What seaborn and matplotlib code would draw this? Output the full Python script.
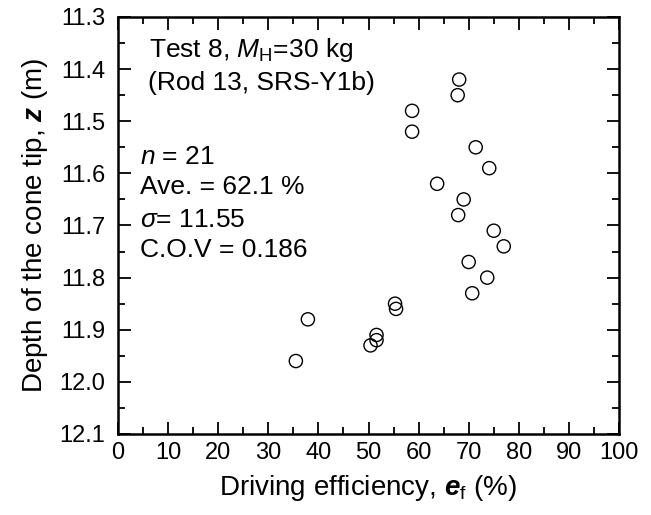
import matplotlib
matplotlib.use("Agg")
import matplotlib.pyplot as plt
from matplotlib.ticker import MultipleLocator
import seaborn as sns
import pandas as pd

efficiency = [68.1, 67.8, 58.7, 58.7, 71.4, 74.1, 63.7, 69.0, 67.9, 75.0, 77.0,
              70.0, 73.7, 70.7, 55.3, 55.5, 51.6, 51.6, 50.4, 37.9, 35.5]
depth = [11.42, 11.45, 11.48, 11.52, 11.55, 11.59, 11.62, 11.65, 11.68, 11.71, 11.74,
         11.77, 11.80, 11.83, 11.85, 11.86, 11.91, 11.92, 11.93, 11.88, 11.96]

x_ticks = [0, 10, 20, 30, 40, 50, 60, 70, 80, 90, 100]
y_ticks = [11.3, 11.4, 11.5, 11.6, 11.7, 11.8, 11.9, 12.0, 12.1]

info_lines = ["Test 8, $\\mathit{M}_{\\mathrm{H}}$=30 kg", "(Rod 13, SRS-Y1b)"]
stat_lines = ["$\\mathit{n}$ = 21", "Ave. = 62.1 %", "$\\sigma$= 11.55", "C.O.V = 0.186"]

sns.set_style("ticks")
plt.rcParams["font.family"] = ["Liberation Sans", "DejaVu Sans"]
plt.rcParams["mathtext.fontset"] = "custom"
plt.rcParams["mathtext.rm"] = "Liberation Sans"
plt.rcParams["mathtext.it"] = "Liberation Sans:italic"
plt.rcParams["mathtext.bf"] = "Liberation Sans:bold:italic"
plt.rcParams["text.color"] = "black"
plt.rcParams["axes.labelcolor"] = "black"
plt.rcParams["xtick.color"] = "black"
plt.rcParams["ytick.color"] = "black"

df = pd.DataFrame({"ef": efficiency, "z": depth})

fig = plt.figure(figsize=(6.51, 5.15), dpi=100)
ax = fig.add_axes([118 / 651, 1 - 434 / 515, 501 / 651, 417 / 515])

sns.scatterplot(data=df, x="ef", y="z", ax=ax, marker="o", s=90,
                facecolor="none", edgecolor="black", linewidth=1.0, zorder=3)

ax.set_xlim(0, 100)
ax.set_ylim(12.1, 11.3)
ax.set_xticks(x_ticks)
ax.set_xticklabels([str(v) for v in x_ticks])
ax.set_yticks(y_ticks)
ax.set_yticklabels([f"{v:.1f}" for v in y_ticks])
ax.xaxis.set_minor_locator(MultipleLocator(5))
ax.yaxis.set_minor_locator(MultipleLocator(0.05))

ax.tick_params(which="both", direction="in", top=True, right=True, width=1.3,
               colors="black", labelcolor="black")
ax.tick_params(which="major", length=9, labelsize=17)
ax.tick_params(axis="x", which="major", pad=6)
ax.tick_params(axis="y", which="major", pad=9)
ax.tick_params(which="minor", length=5)
for sp in ax.spines.values():
    sp.set_linewidth(1.8)
    sp.set_color("black")

ax.set_xlabel("Driving efficiency, $\\mathbf{e}_{\\mathrm{f}}$ (%)", fontsize=20, labelpad=6)
ax.set_ylabel("Depth of the cone tip, $\\mathbf{z}$ (m)", fontsize=20, labelpad=7)

ax.text(0.062, 0.921, info_lines[0], transform=ax.transAxes, fontsize=19, va="center", ha="left")
ax.text(0.060, 0.842, info_lines[1], transform=ax.transAxes, fontsize=19, va="center", ha="left")
for txt, yy in zip(stat_lines, [0.664, 0.592, 0.513, 0.441]):
    ax.text(0.044, yy, txt, transform=ax.transAxes, fontsize=19, va="center", ha="left")

fig.savefig("out.png", dpi=100)
